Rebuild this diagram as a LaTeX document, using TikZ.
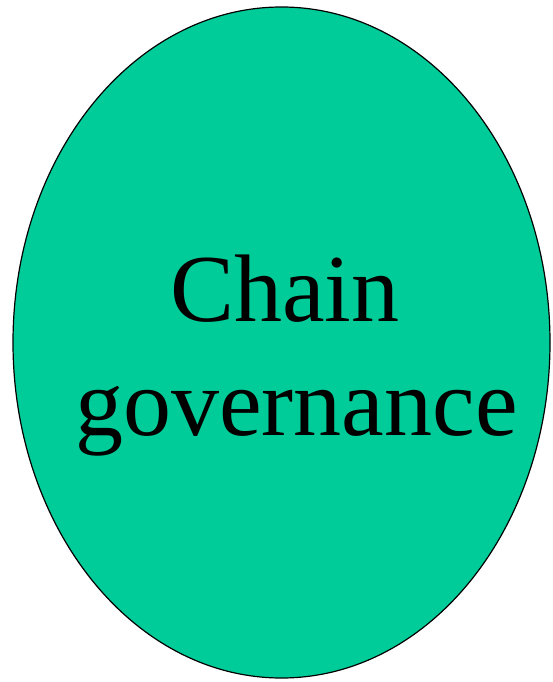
\documentclass[tikz,border=0pt]{standalone}
\usepackage{fontspec}
\setmainfont{Liberation Serif}
\usetikzlibrary{shapes.geometric}
\definecolor{govgreen}{HTML}{00CC99}
\begin{document}
\begin{tikzpicture}[x=1pt, y=1pt]
    \useasboundingbox (0,0) rectangle (552,-682);
    \node[ellipse, draw, line width=1.2pt, fill=govgreen, inner sep=0pt,
          minimum width=537pt, minimum height=671pt] (gov) at (281.5,-342.5) {};
    \node[align=center, inner sep=0pt, font=\fontsize{96}{114}\selectfont]
        (govtext) at ([xshift=15pt, yshift=-13pt]gov.center) {Chain\hspace*{0.24em}\\governance};
\end{tikzpicture}
\end{document}
